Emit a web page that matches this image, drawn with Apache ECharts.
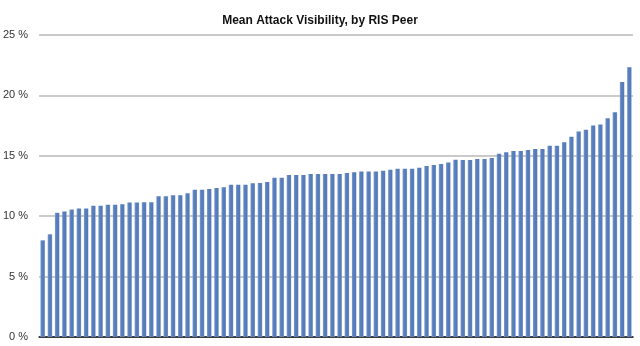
<!DOCTYPE html>
<html>
<head>
<meta charset="utf-8">
<script src="https://cdn.jsdelivr.net/npm/echarts@6/dist/echarts.min.js"></script>
<style>
  html, body { margin: 0; padding: 0; background: #fff; }
  #chart { width: 640px; height: 346px; }
</style>
</head>
<body>
<div id="chart"></div>
<script>
// Mean attack visibility per RIS peer, sorted ascending (percent)
const visibility = [
  8.0, 8.5, 10.28, 10.39, 10.55, 10.63, 10.63, 10.86, 10.86, 10.94,
  10.94, 10.99, 11.13, 11.13, 11.15, 11.15, 11.65, 11.65, 11.73, 11.73,
  11.9, 12.18, 12.18, 12.26, 12.34, 12.39, 12.61, 12.61, 12.61, 12.73,
  12.75, 12.83, 13.19, 13.19, 13.41, 13.41, 13.41, 13.49, 13.49, 13.49,
  13.49, 13.49, 13.57, 13.63, 13.71, 13.71, 13.71, 13.77, 13.85, 13.93,
  13.93, 13.93, 14.01, 14.15, 14.24, 14.32, 14.45, 14.67, 14.65, 14.65,
  14.73, 14.73, 14.81, 15.17, 15.3, 15.39, 15.39, 15.47, 15.56, 15.56,
  15.83, 15.83, 16.13, 16.57, 17.01, 17.15, 17.5, 17.6, 18.1, 18.6,
  21.1, 22.34
];
// One category per peer (unlabelled on the axis)
const peers = visibility.map((_, i) => 'Peer ' + (i + 1));
const yTicks = [0, 5, 10, 15, 20, 25];

const chart = echarts.init(document.getElementById('chart'), null, { renderer: 'canvas' });
chart.setOption({
  animation: false,
  backgroundColor: '#ffffff',
  title: {
    text: 'Mean Attack Visibility, by RIS Peer',
    left: 'center',
    top: 10,
    textStyle: {
      fontFamily: 'Liberation Sans, Arial, sans-serif',
      fontSize: 12,
      fontWeight: 'bold',
      color: '#111'
    }
  },
  grid: { left: 38, right: 7, top: 35, bottom: 9, containLabel: false },
  xAxis: {
    type: 'category',
    data: peers,
    axisLine: { show: true, lineStyle: { color: '#111', width: 1.5 } },
    axisTick: { show: false },
    axisLabel: { show: false },
    splitLine: { show: false }
  },
  yAxis: {
    type: 'value',
    min: yTicks[0],
    max: yTicks[yTicks.length - 1],
    interval: 5,
    axisLine: { show: false },
    axisTick: { show: false },
    axisLabel: {
      margin: 11,
      formatter: v => v + ' %',
      fontFamily: 'Liberation Sans, Arial, sans-serif',
      fontSize: 11,
      color: '#333'
    },
    splitLine: { show: true, lineStyle: { color: '#b8b8b8', width: 1.5 } }
  },
  series: [{
    type: 'bar',
    data: visibility,
    barCategoryGap: '38%',
    itemStyle: {
      color: new echarts.graphic.LinearGradient(0, 0, 1, 0, [
        { offset: 0, color: '#7f9fd0' },
        { offset: 0.3, color: '#5a80bd' },
        { offset: 0.8, color: '#5479b6' },
        { offset: 1, color: '#8aa7d4' }
      ])
    }
  }]
});
</script>
</body>
</html>
